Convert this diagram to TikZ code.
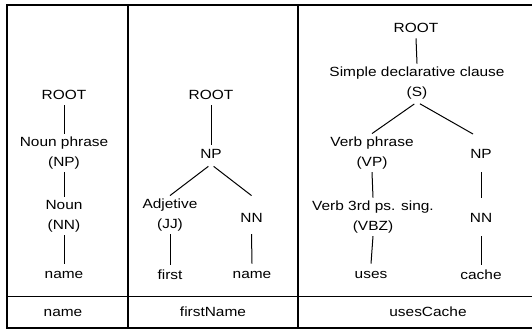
\documentclass[tikz,border=0pt]{standalone}
\usepackage{fontspec}
\setmainfont{Liberation Sans}[FakeStretch=1.16]
\begin{document}
\begin{tikzpicture}[x=0.03cm,y=-0.03cm,
    word/.style={inner sep=0pt,outer sep=0.1cm,text height=0.28cm,text depth=0.09cm,anchor=base},
    leaf/.style={word,text height=0.33cm},
    phrase/.style={inner sep=0pt,outer sep=0.1cm,align=center,anchor=base},
    branch/.style={line width=0.03cm},
    rule/.style={line width=0.04cm}]
\useasboundingbox (0,0) rectangle (532,329);
{\fontsize{11.36}{16.6}\selectfont

% Drawing table frame
\draw [rule] (532,5) -- (7,5) -- (7,328) -- (532,328);%
\draw [rule] (7,296.7) -- (532,296.7);%
\draw [rule] (128,5) -- (128,328);%
\draw [rule] (298,5) -- (298,328);%

% Marking nodes of column name
\node [word] (root1) at (64,99) {ROOT};%
\node [phrase] (np1) at (64,166) {Noun phrase\\(NP)};%
\node [phrase] (nn1) at (64,229) {Noun\\(NN)};%
\node [leaf] (w1) at (64,278) {name};%

% Marking nodes of column firstName
\node [word] (root2) at (211,99) {ROOT};%
\node [word] (np2) at (211,158) {NP};%
\node [phrase] (jj2) at (170,228) {Adjetive\\(JJ)};%
\node [word] (nn2) at (251.5,222) {NN};%
\node [leaf] (w2a) at (170,279) {first};%
\node [leaf] (w2b) at (252,278) {name};%

% Marking nodes of column usesCache
\node [word] (root3) at (416,32) {ROOT};%
\node [phrase] (s3) at (417,96) {Simple declarative clause\\(S)};%
\node [phrase] (vp3) at (372,166) {Verb phrase\\(VP)};%
\node [word] (np3) at (481,158) {NP};%
\node [phrase] (vbz3) at (373,230) {Verb 3rd ps. sing.\\(VBZ)};%
\node [word] (nn3) at (481,222.5) {NN};%
\node [leaf] (w3a) at (371,278) {uses};%
\node [leaf] (w3b) at (481,279) {cache};%
\coordinate (np3end) at (473,134);%

% Marking identifiers
\node [word] (id1) at (63,316) {name};%
\node [word] (id2) at (213,316) {firstName};%
\node [word] (id3) at (428,316) {usesCache};%

% Drawing branches of column name
\draw [branch] (root1.south) -- (np1.north);%
\draw [branch] (np1.south) -- (nn1.north);%
\draw [branch] (nn1.south) -- (w1.north);%

% Drawing branches of column firstName
\draw [branch] (root2.south) -- (np2.north);%
\draw [branch,shorten <=0.1cm] (np2.south) -- (jj2.north);%
\draw [branch,shorten <=0.1cm] (np2.south) -- (nn2.north |- jj2.north);%
\draw [branch] (jj2.south) -- (w2a.north);%
\draw [branch] (nn2.south |- jj2.south) -- (w2b.north);%

% Drawing branches of column usesCache
\draw [branch] (root3.south) -- (s3.north);%
\draw [branch,shorten <=0.1cm] (s3.south) -- (vp3.north);%
\draw [branch,shorten <=0.1cm] (s3.south) -- (np3end);%
\draw [branch] (vp3.south) -- (vbz3.north);%
\draw [branch] (np3.south |- vp3.south) -- (nn3.north |- vbz3.north);%
\draw [branch] (vbz3.south) -- (w3a.north);%
\draw [branch] (nn3.south |- vbz3.south) -- (w3b.north);%
}
\end{tikzpicture}
\end{document}
